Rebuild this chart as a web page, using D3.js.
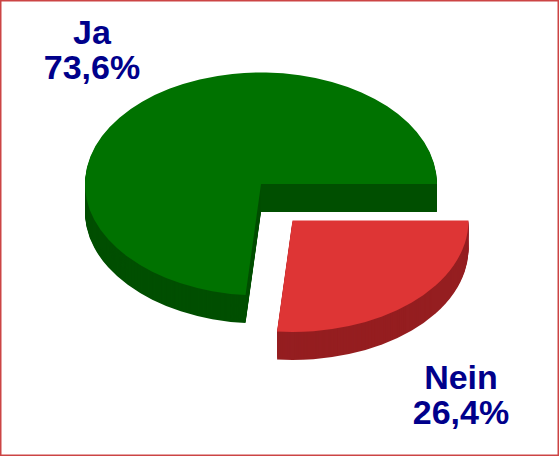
<!DOCTYPE html>
<meta charset="utf-8">
<style>

body {
  margin: 0;
  background: #fff;
}

svg {
  display: block;
}

text {
  font-family: "Liberation Sans", Arial, sans-serif;
  font-weight: bold;
  font-size: 34px;
  fill: #00008b;
  text-anchor: middle;
}

</style>
<svg width="559" height="456"></svg>
<script src="https://d3js.org/d3.v7.min.js"></script>
<script>

var categories = ["Nein", "Ja"];
var values = [26.4, 73.6];

var topColors = ["#de3535", "#007200"];
var sideColors = ["#951e20", "#004f00"];

var svg = d3.select("svg"),
    width = +svg.attr("width"),
    height = +svg.attr("height");

var rx = 176,
    tilt = 111.5 / 176,
    depth = 28;

// the Nein slice is pulled out of the pie
var centers = [[292.5, 220.5], [261, 184]];
var labelPos = [[461, 389], [92, 43.5]];

var fmt = d3.formatLocale({ decimal: ",", thousands: ".", grouping: [3], currency: ["", "€"] }).format(".1f");

svg.append("rect")
    .attr("x", 0.75)
    .attr("y", 0.75)
    .attr("width", width - 1.5)
    .attr("height", height - 1.5)
    .attr("fill", "#fff")
    .attr("stroke", "#cc4444")
    .attr("stroke-width", 1.5);

var pie = d3.pie()
    .sort(null)
    .startAngle(Math.PI / 2)
    .endAngle(Math.PI * 2.5);

var arc = d3.arc()
    .innerRadius(0)
    .outerRadius(rx);

var slices = pie(values);

slices.forEach(function(d, i) {
  var g = svg.append("g");

  // side wall: stack of dark copies going up to the top face
  d3.range(depth, 0, -1).forEach(function(dy) {
    g.append("path")
        .attr("d", arc(d))
        .attr("fill", sideColors[i])
        .attr("transform", "translate(" + centers[i][0] + "," + (centers[i][1] + dy) + ") scale(1," + tilt + ")");
  });

  g.append("path")
      .attr("d", arc(d))
      .attr("fill", topColors[i])
      .attr("transform", "translate(" + centers[i][0] + "," + centers[i][1] + ") scale(1," + tilt + ")");

  var label = svg.append("text")
      .attr("x", labelPos[i][0])
      .attr("y", labelPos[i][1]);

  label.append("tspan")
      .attr("x", labelPos[i][0])
      .text(categories[i]);

  label.append("tspan")
      .attr("x", labelPos[i][0])
      .attr("dy", 35)
      .text(fmt(values[i]) + "%");
});

</script>
